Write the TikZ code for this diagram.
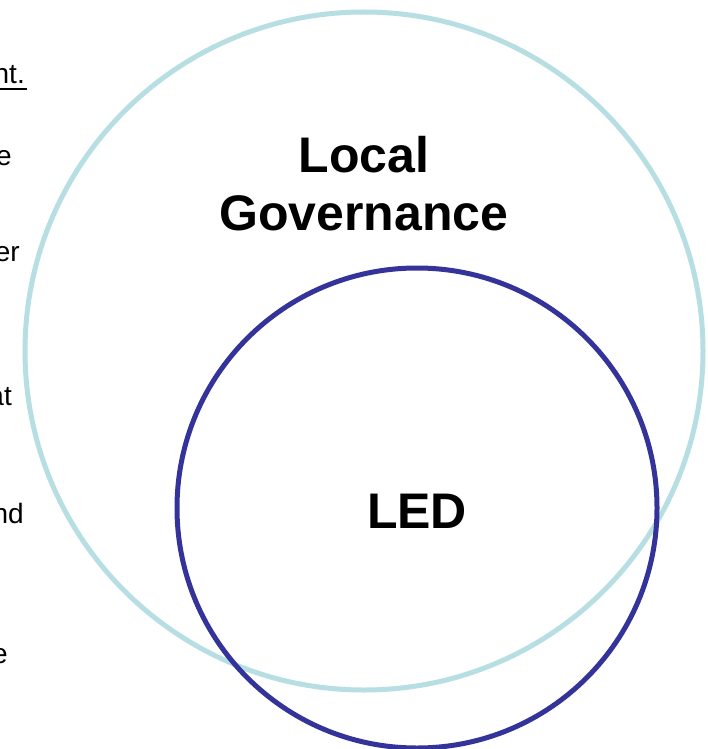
\documentclass[tikz,border=0pt]{standalone}
\usepackage{fontspec}
\setmainfont{Liberation Sans}
\definecolor{lightring}{HTML}{B7DEE3}
\definecolor{darkring}{HTML}{333399}
\begin{document}
\begin{tikzpicture}[x=1pt,y=-1pt,
  bigtext/.style={font=\fontsize{50}{58}\selectfont\bfseries, align=center, inner sep=0pt},
  sidetext/.style={font=\fontsize{28}{32}\selectfont, anchor=base east, inner sep=0pt},
  ring/.style={line width=5pt}]
\useasboundingbox (0,0) rectangle (708,749);
\clip (0,0) rectangle (708,749);
\fill[white] (0,0) rectangle (708,749);
% left text fragments
\node[sidetext] (f1) at (25,84) {nt.};
\draw[line width=1.5pt] (0,89) -- (27,89);
\node[sidetext] (f2) at (12,165) {e};
\node[sidetext] (f3) at (20,261) {er};
\node[sidetext] (f4) at (12,405) {at};
\node[sidetext] (f5) at (24,523) {nd};
\node[sidetext] (f6) at (8,663) {e};
% circles
\node[ring, draw=lightring, circle, minimum size=678pt, inner sep=0pt] (gov) at (364,351) {};
\node[ring, draw=darkring, circle, minimum size=480pt, inner sep=0pt] (led) at (417,508) {};
% labels
\node[bigtext, anchor=base] (t1) at (364,172) {Local};
\node[bigtext, anchor=base] (t2) at (364,230) {Governance};
\node[bigtext, anchor=base] (t3) at (417,528) {LED};
\end{tikzpicture}
\end{document}
